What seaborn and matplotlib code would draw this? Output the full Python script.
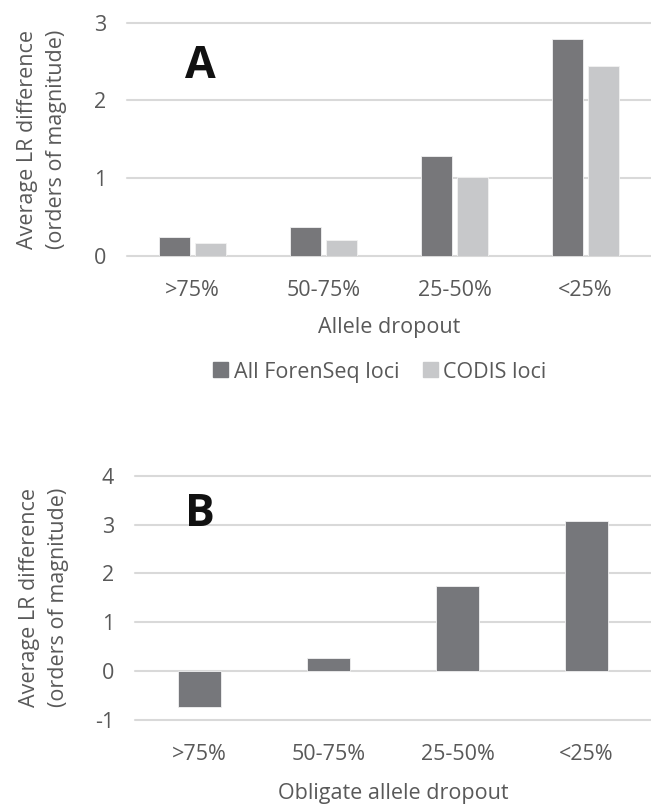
import matplotlib
matplotlib.use("Agg")
import matplotlib.pyplot as plt
import matplotlib.patches as mpatches
import seaborn as sns
import pandas as pd

# values
categories = [">75%", "50-75%", "25-50%", "<25%"]
forenseq_a = [0.24, 0.37, 1.28, 2.79]
codis_a = [0.17, 0.20, 1.02, 2.44]
obligate_b = [-0.73, 0.27, 1.74, 3.07]
series_names = ["All ForenSeq loci", "CODIS loci"]

dark = "#76777b"
light = "#c7c8ca"
txt = "#595959"
grid = "#d9d9d9"
fs = 15.5

sns.set_theme(style="white")
plt.rcParams["font.family"] = ["Open Sans", "DejaVu Sans"]
plt.rcParams["axes.unicode_minus"] = False

df_a = pd.DataFrame({
    "cat": categories * 2,
    "val": forenseq_a + codis_a,
    "series": [series_names[0]] * 4 + [series_names[1]] * 4,
})
df_b = pd.DataFrame({"cat": categories, "val": obligate_b})

fig = plt.figure(figsize=(6.51, 8.05), dpi=100)
ax1 = fig.add_axes([127 / 651, 1 - 256 / 805, 1 - 127 / 651, (256 - 22.7) / 805])
ax2 = fig.add_axes([135 / 651, 1 - 720 / 805, 1 - 135 / 651, (720 - 475.7) / 805])

sns.barplot(data=df_a, x="cat", y="val", hue="series", order=categories,
            palette=[dark, light], width=0.54, gap=0.12, ax=ax1,
            edgecolor="#f2f2f2", linewidth=0.6, legend=False, zorder=3)
sns.barplot(data=df_b, x="cat", y="val", order=categories, color=dark,
            width=0.33, ax=ax2, edgecolor="#f2f2f2", linewidth=0.6,
            saturation=1, zorder=3)

for ax, lo, hi in [(ax1, 0, 3), (ax2, -1, 4)]:
    ax.set_ylim(lo, hi)
    ax.set_xlim(-0.5, 3.5)
    ax.set_yticks(range(lo, hi + 1))
    for y in range(lo, hi + 1):
        ax.axhline(y, color=grid, lw=1.5, zorder=1, clip_on=False)
    for s in ax.spines.values():
        s.set_visible(False)
    ax.tick_params(axis="both", length=0, labelsize=fs, labelcolor=txt)
    ax.tick_params(axis="y", pad=15)
    ax.tick_params(axis="x", pad=17)
    ax.set_ylabel("Average LR difference\n(orders of magnitude)", fontsize=fs,
                  color=txt, labelpad=19, linespacing=1.5)

ax1.set_xlabel("Allele dropout", fontsize=fs, color=txt, labelpad=12)
ax2.set_xlabel("Obligate allele dropout", fontsize=fs, color=txt, labelpad=13)

ax1.text(0.057, 2.44, "A", fontsize=32, fontweight="bold", color="#111111",
         ha="center", va="center")
ax2.text(0.004, 3.2, "B", fontsize=32, fontweight="bold", color="#111111",
         ha="center", va="center")

handles = [mpatches.Patch(color=dark, label=series_names[0]),
           mpatches.Patch(color=light, label=series_names[1])]
fig.legend(handles=handles, loc="center", bbox_to_anchor=(380 / 651, 1 - 372 / 805),
           ncol=2, frameon=False, fontsize=fs, labelcolor=txt,
           handlelength=0.7, handleheight=0.7, handletextpad=0.25,
           columnspacing=1.1)

fig.savefig("out.png", dpi=100)
